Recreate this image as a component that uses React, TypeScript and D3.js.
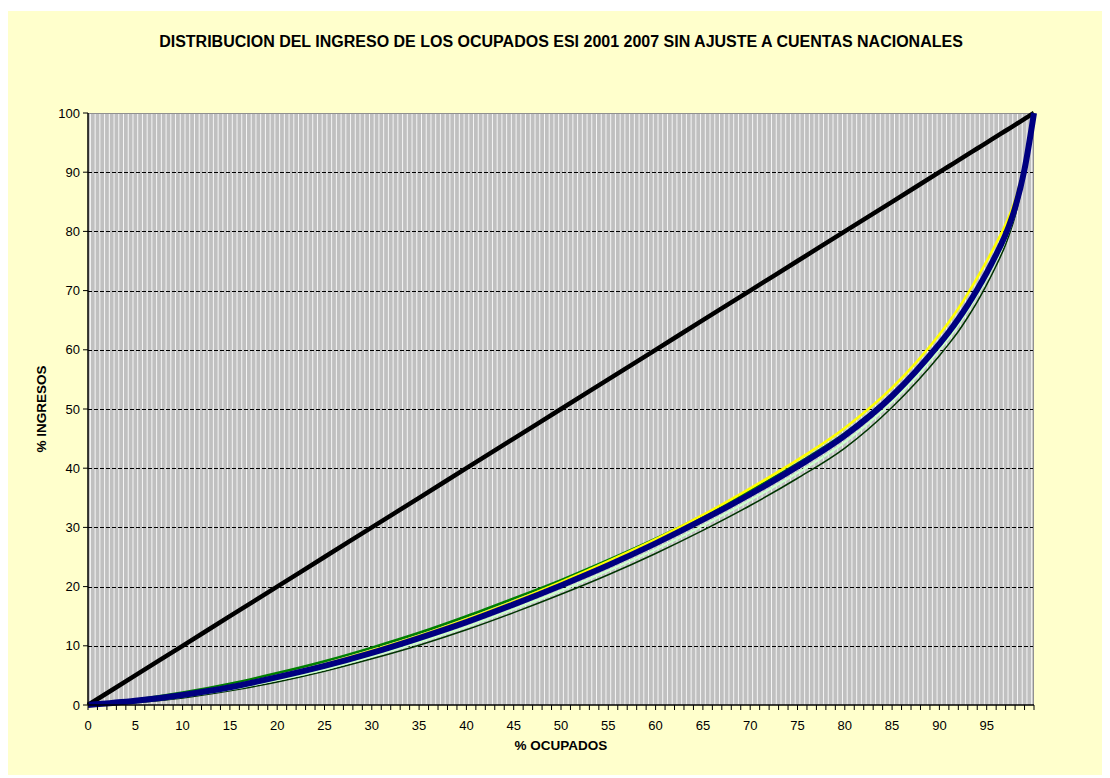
import React from "react";
import * as d3 from "d3";

// percentiles of workers (x) and cumulative income share per year (y)
const pct = [0, 5, 10, 15, 20, 25, 30, 35, 40, 45, 50, 55, 60, 65, 70, 75, 80, 85, 90, 91, 92, 93, 94, 95, 96, 97, 98, 99, 100];
const equality = [0, 5, 10, 15, 20, 25, 30, 35, 40, 45, 50, 55, 60, 65, 70, 75, 80, 85, 90, 91, 92, 93, 94, 95, 96, 97, 98, 99, 100];
const greenSeries = [0, 0.9, 2.1, 3.6, 5.4, 7.4, 9.7, 12.2, 15.0, 18.0, 21.1, 24.5, 28.1, 32.0, 36.2, 40.8, 45.9, 52.5, 61.2, 63.2, 65.4, 67.8, 70.4, 73.2, 76.3, 79.7, 84.2, 90.6, 100];
const yellowSeries = [0, 0.7, 1.8, 3.2, 4.9, 6.9, 9.2, 11.7, 14.5, 17.5, 20.8, 24.3, 28.0, 32.1, 36.6, 41.4, 46.8, 53.6, 62.6, 64.7, 67.0, 69.5, 72.2, 75.0, 78.0, 81.2, 85.3, 91.2, 100];
const darkGreenSeries = [0, 0.4, 1.2, 2.4, 3.9, 5.7, 7.8, 10.1, 12.7, 15.6, 18.7, 22.0, 25.6, 29.5, 33.7, 38.3, 43.4, 50.3, 59.0, 61.0, 63.1, 65.5, 68.1, 71.0, 74.2, 77.8, 82.6, 89.7, 100];
const paleSeries = [0, 0.5, 1.4, 2.6, 4.2, 6.0, 8.2, 10.6, 13.2, 16.2, 19.3, 22.7, 26.3, 30.3, 34.6, 39.2, 44.4, 51.2, 60.0, 62.0, 64.2, 66.6, 69.2, 72.0, 75.1, 78.6, 83.2, 90.0, 100];
const navySeries = [0, 0.7, 1.7, 3.0, 4.7, 6.6, 8.8, 11.3, 14.0, 17.0, 20.2, 23.6, 27.3, 31.3, 35.6, 40.3, 45.5, 52.2, 61.0, 63.0, 65.2, 67.6, 70.2, 73.0, 76.1, 79.5, 84.0, 90.5, 100];

const xTicks = [0, 5, 10, 15, 20, 25, 30, 35, 40, 45, 50, 55, 60, 65, 70, 75, 80, 85, 90, 95];
const yTicks = [0, 10, 20, 30, 40, 50, 60, 70, 80, 90, 100];

const series = [
  { name: "2001", values: greenSeries, color: "#008000", width: 2.5 },
  { name: "2002", values: yellowSeries, color: "#FFFF00", width: 2.5 },
  { name: "2003", values: darkGreenSeries, color: "#003300", width: 1.5 },
  { name: "2004", values: paleSeries, color: "#CCFFCC", width: 2 },
  { name: "2007", values: navySeries, color: "#000080", width: 6 },
];

export default function App() {
  const width = 1110;
  const height = 778;
  const margin = { left: 88, right: 1034, top: 113, bottom: 705 };

  const x = d3.scaleLinear().domain([0, 100]).range([margin.left, margin.right]);
  const y = d3.scaleLinear().domain([0, 100]).range([margin.bottom, margin.top]);

  const line = d3
    .line<number>()
    .x((_, i) => x(pct[i]))
    .y((d) => y(d))
    .curve(d3.curveMonotoneX);

  const stripes = d3.range(0, 200).map((i) => i * 0.5);
  const minorTicks = d3.range(0, 101);
  const font = "'Liberation Sans', Arial, sans-serif";

  return (
    <svg
      width={width}
      height={height}
      style={{ position: "absolute", left: 0, top: 0, display: "block" }}
      fontFamily={font}
    >
      <rect x={8} y={11} width={1094} height={764} fill="#FFFFCC" />
      <text x={561} y={47} textAnchor="middle" fontSize={16} fontWeight="bold">
        DISTRIBUCION DEL INGRESO DE LOS OCUPADOS ESI 2001 2007 SIN AJUSTE A CUENTAS NACIONALES
      </text>

      {/* plot area */}
      <rect
        x={margin.left}
        y={margin.top}
        width={margin.right - margin.left}
        height={margin.bottom - margin.top}
        fill="#C0C0C0"
      />
      {stripes.map((s) => (
        <line
          key={s}
          x1={x(s) + 2.4}
          x2={x(s) + 2.4}
          y1={margin.top}
          y2={margin.bottom}
          stroke="#FFFFFF"
          strokeWidth={1}
          opacity={0.85}
        />
      ))}
      {yTicks
        .filter((t) => t > 0 && t < 100)
        .map((t) => (
          <line
            key={t}
            x1={margin.left}
            x2={margin.right}
            y1={Math.round(y(t)) + 0.5}
            y2={Math.round(y(t)) + 0.5}
            stroke="#000"
            strokeDasharray="4,2"
          />
        ))}
      <line x1={margin.left} x2={margin.right} y1={margin.top + 0.5} y2={margin.top + 0.5} stroke="#909090" />
      <line x1={margin.right - 0.5} x2={margin.right - 0.5} y1={margin.top} y2={margin.bottom} stroke="#909090" />

      {/* series */}
      <path d={line(equality) ?? ""} fill="none" stroke="#000" strokeWidth={4.5} />
      {series.map((s) => (
        <path key={s.name} d={line(s.values) ?? ""} fill="none" stroke={s.color} strokeWidth={s.width} />
      ))}

      {/* axes */}
      <line x1={margin.left} x2={margin.left} y1={margin.top} y2={margin.bottom} stroke="#000" strokeWidth={1.5} />
      <line x1={margin.left} x2={margin.right} y1={margin.bottom} y2={margin.bottom} stroke="#000" strokeWidth={1.5} />
      {yTicks.map((t) => (
        <g key={t}>
          <line x1={margin.left - 5} x2={margin.left} y1={y(t)} y2={y(t)} stroke="#000" />
          <text x={margin.left - 8} y={y(t)} dy="0.35em" textAnchor="end" fontSize={13}>
            {t}
          </text>
        </g>
      ))}
      {minorTicks.map((t) => (
        <line key={t} x1={x(t)} x2={x(t)} y1={margin.bottom} y2={margin.bottom + 5} stroke="#000" />
      ))}
      {xTicks.map((t) => (
        <text key={t} x={x(t)} y={margin.bottom + 25} textAnchor="middle" fontSize={13}>
          {t}
        </text>
      ))}
      <text x={561} y={750} textAnchor="middle" fontSize={13.5} fontWeight="bold">
        % OCUPADOS
      </text>
      <text
        transform={`translate(46,${(margin.top + margin.bottom) / 2}) rotate(-90)`}
        textAnchor="middle"
        fontSize={13.5}
        fontWeight="bold"
      >
        % INGRESOS
      </text>
    </svg>
  );
}
